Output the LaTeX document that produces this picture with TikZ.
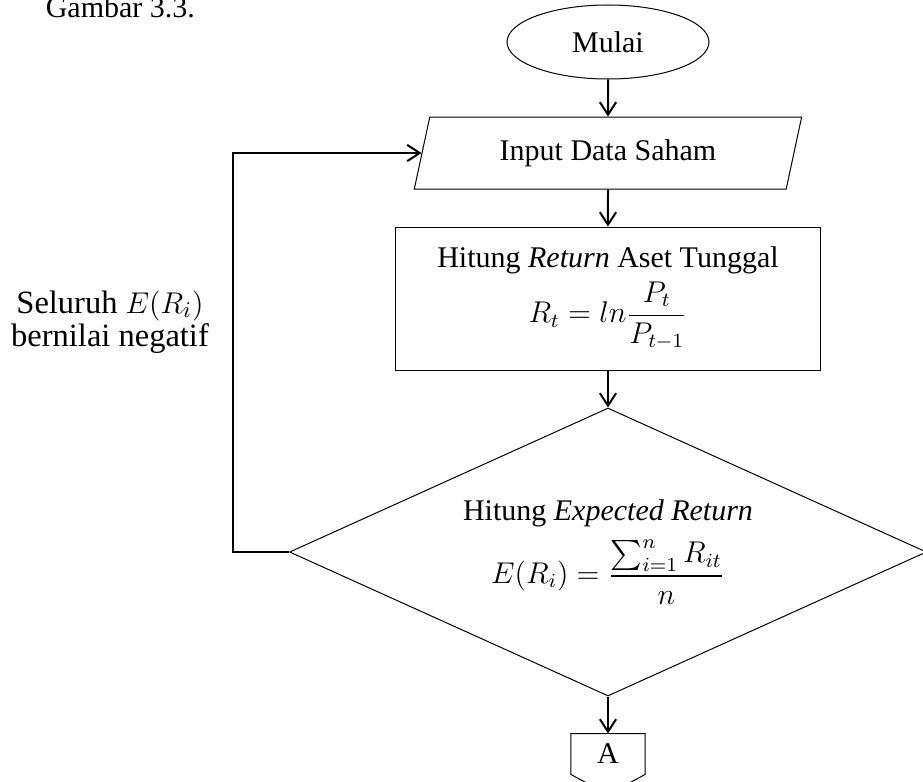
\documentclass[tikz,border=0pt]{standalone}
\usepackage{amsmath}
\usepackage{fontspec}
\setmainfont{Liberation Serif}
\usetikzlibrary{positioning, arrows.meta, shapes.geometric}

\begin{document}
\begin{tikzpicture}[
    >={Straight Barb[length=5pt,width=6.5pt]},
    node distance=14.8pt,
    every node/.style={font=\fontsize{12}{14.4}\selectfont},
    terminal/.style={draw, thin, ellipse, minimum width=80.8pt, minimum height=29.6pt},
    io/.style={draw, thin, trapezium, trapezium left angle=77, trapezium right angle=103,
        trapezium stretches=true, minimum width=155pt, minimum height=28.8pt},
    process/.style={draw, thin, rectangle, align=center, minimum width=169.6pt, minimum height=57.2pt},
    decision/.style={draw, thin, diamond, align=center, aspect=2.2, inner sep=0pt,
        minimum width=254.8pt, minimum height=115.2pt},
    offpage/.style={inner sep=0pt, minimum width=29.2pt, minimum height=16pt},
    flow/.style={->, thick}
]
    \useasboundingbox (-243.2pt,16.8pt) rectangle (126pt,-296pt);

    \node[anchor=base west] (caption) at (-228.4pt,9.6pt) {Gambar 3.3.};

    \node[terminal] (mulai) at (0,0) {Mulai};
    \node[io, below=of mulai] (input) {Input Data Saham};
    \node[process, below=of input] (ret)
        {Hitung \textit{Return} Aset Tunggal\\[2pt]
         {\large$\displaystyle R_t = ln\frac{P_t}{P_{t-1}}$}};
    \node[decision, below=of ret] (expret)
        {Hitung \textit{Expected Return}\\[4pt]
         {\large$\displaystyle E(R_i) = \frac{\sum_{i=1}^{n} R_{it}}{n}$}};
    \node[offpage, below=of expret] (A) {\raisebox{-2pt}{A}};
    % off-page connector outline, point at the bottom
    \draw[thin] (A.south west) |- (A.north east) -- (A.south east)
        -- ([yshift=-8pt]A.south) -- cycle;

    % loop back when every expected return is negative
    \node[align=center, font=\fontsize{13}{11.5}\selectfont] (note) at (-199.2pt,-112pt)
        {Seluruh $E(R_i)$\\bernilai negatif};

    \draw[flow] (mulai) -- (input);
    \draw[flow] (input) -- (ret);
    \draw[flow] (ret) -- (expret);
    \draw[flow] (expret) -- (A);
    \draw[flow] (expret.west) -- ++(-22.4pt,0) |- (input.west);
\end{tikzpicture}
\end{document}
